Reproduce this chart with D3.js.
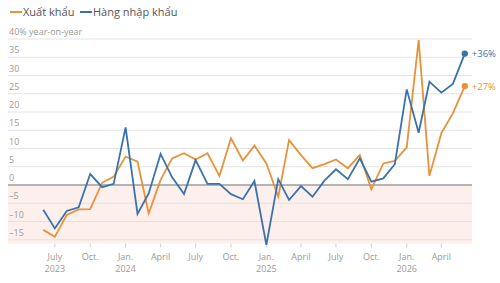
<!DOCTYPE html>
<html>
<head>
<meta charset="utf-8">
<script src="https://cdn.jsdelivr.net/npm/d3@7"></script>
<style>
  body { margin: 0; background: #fff; }
  svg { font-family: "Open Sans", "Noto Sans", sans-serif; }
  .grid { stroke: #e3e3e3; stroke-width: 1; }
  .tickLabel { fill: #9a9a9a; font-size: 9px; }
</style>
</head>
<body>
<div id="vis"></div>
<script>
// monthly data, June 2023 .. June 2026
var months = d3.range(0, 37).map(function(i) { return new Date(Date.UTC(2023, 5 + i, 1)); });

var exportsVals = [-12.3, -14.2, -8.2, -6.7, -6.6, 0.6, 2.3, 7.8, 6.4, -7.8, 1.4, 7.3, 8.7,
                   7.0, 8.7, 2.5, 12.8, 6.7, 10.8, 5.9, -3.2, 12.3, 8.2, 4.6, 5.7,
                   7.0, 4.6, 8.2, -1.2, 5.9, 6.6, 10.3, 39.7, 2.5, 14.2, 19.6, 27.1];

var importsVals = [-6.8, -11.9, -7.1, -6.1, 3.0, -0.6, 0.3, 15.8, -7.9, -2.3, 8.5, 2.1, -2.5,
                   6.8, 0.3, 0.3, -2.5, -3.9, 1.1, -16.4, 1.6, -4.1, -0.3, -3.2, 1.2,
                   4.3, 1.6, 7.3, 0.9, 1.8, 5.7, 26.2, 14.3, 28.3, 25.3, 27.7, 36.0];

var yTicks = [35, 30, 25, 20, 15, 10, 5, 0, -5, -10, -15];
var xTickDates = [[2023, 6], [2023, 9], [2024, 0], [2024, 3], [2024, 6], [2024, 9],
                  [2025, 0], [2025, 3], [2025, 6], [2025, 9], [2026, 0], [2026, 3]];
var xTickLabels = ['July', 'Oct.', 'Jan.', 'April', 'July', 'Oct.',
                   'Jan.', 'April', 'July', 'Oct.', 'Jan.', 'April'];

var series = [
  { name: 'Xuất khẩu', values: exportsVals, color: '#e8923a', end: '+27%' },
  { name: 'Hàng nhập khẩu', values: importsVals, color: '#3a72ad', end: '+36%' }
];

var w = 500, h = 283,
    left = 8, right = 472,
    tick_len = 4;

var x = d3.scaleUtc().domain([months[0], months[months.length - 1]]).range([43.3, 464.8]);
var y = d3.scaleLinear().domain([-16, 40]).range([243.4, 39]);

var vis = d3.select("#vis").append("svg")
            .attr("width", w)
            .attr("height", h);

// negative zone
vis.append("rect")
   .attr("x", left)
   .attr("y", y(0))
   .attr("width", right - left)
   .attr("height", y(-16) - y(0))
   .attr("fill", "#fcefec");

// grid lines
vis.selectAll(".grid")
   .data([40].concat(yTicks))
   .enter()
   .append("line")
   .attr("class", "grid")
   .attr("x1", left)
   .attr("x2", right)
   .attr("y1", function(d) { return y(d); })
   .attr("y2", function(d) { return y(d); });

// zero line
vis.append("line")
   .attr("x1", left).attr("x2", right)
   .attr("y1", y(0)).attr("y2", y(0))
   .attr("stroke", "#7a7a7a")
   .attr("stroke-width", 1.2);

// Y labels
vis.selectAll(".yLabel")
   .data(yTicks)
   .enter()
   .append("text")
   .attr("class", "tickLabel")
   .attr("x", 9)
   .attr("y", function(d) { return y(d) - 4; })
   .text(function(d) { return d < 0 ? "\u2013" + Math.abs(d) : d; });

vis.append("text")
   .attr("class", "tickLabel")
   .attr("x", 9)
   .attr("y", y(40) - 4)
   .text("40% year-on-year");

// X ticks + labels
var xt = vis.selectAll(".xTick")
   .data(xTickDates)
   .enter()
   .append("g")
   .attr("transform", function(d) { return "translate(" + x(new Date(Date.UTC(d[0], d[1], 1))) + ",0)"; });

xt.append("line")
  .attr("y1", y(-16))
  .attr("y2", y(-16) + tick_len)
  .attr("stroke", "#d0d0d0");

xt.append("text")
  .attr("class", "tickLabel")
  .attr("text-anchor", "middle")
  .attr("y", 260)
  .text(function(d, i) { return xTickLabels[i]; });

xt.append("text")
  .attr("class", "tickLabel")
  .attr("text-anchor", "middle")
  .attr("y", 272)
  .text(function(d) { return d[1] === 0 || (d[0] === 2023 && d[1] === 6) ? d[0] : ""; });

// lines
var line = d3.line()
             .x(function(d, i) { return x(months[i]); })
             .y(function(d) { return y(d); });

series.forEach(function(s) {
  vis.append("path")
     .datum(s.values)
     .attr("d", line)
     .attr("fill", "none")
     .attr("stroke", s.color)
     .attr("stroke-width", 1.8)
     .attr("stroke-linejoin", "miter");

  var last = s.values.length - 1;
  vis.append("circle")
     .attr("cx", x(months[last]))
     .attr("cy", y(s.values[last]))
     .attr("r", 3.2)
     .attr("fill", s.color);

  vis.append("text")
     .attr("x", x(months[last]) + 7)
     .attr("y", y(s.values[last]) + 3.5)
     .attr("fill", s.color)
     .attr("font-size", "9.5px")
     .text(s.end);
});

// legend
var lg = vis.selectAll(".legend")
   .data(series)
   .enter()
   .append("g")
   .attr("transform", function(d, i) { return "translate(" + (i === 0 ? 10 : 80) + ",12)"; });

lg.append("line")
  .attr("x1", 0).attr("x2", 12)
  .attr("stroke", function(d) { return d.color; })
  .attr("stroke-width", 2);

lg.append("text")
  .attr("x", 13)
  .attr("y", 4)
  .attr("fill", "#555")
  .attr("font-size", "11px")
  .text(function(d) { return d.name; });
</script>
</body>
</html>
